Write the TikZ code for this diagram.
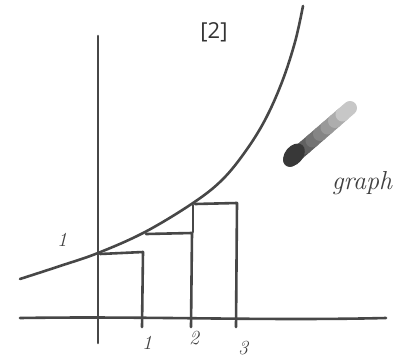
\documentclass[tikz,border=0pt]{standalone}
\usepackage{fontspec}
\setsansfont{Open Sans}
\usetikzlibrary{calc}
\begin{document}
\begin{tikzpicture}[x=1pt,y=-1pt,
  pen/.style={draw=black!72,line width=2.6pt,line cap=round,line join=round},
  hand/.style={font=\itshape\fontsize{20}{22}\selectfont,text=black!75},
]
\useasboundingbox[fill=white] (0,0) rectangle (414,359);
% axes
\draw[pen] (20,318) .. controls (150,316) and (260,321) .. (386,318);
\draw[pen] (98,36) -- (98,343);
% rectangles
\draw[pen] (100,254) -- (143,252) -- (142,327);
\draw[pen] (146,234) -- (192,233) -- (191,327);
\draw[pen] (193,232) -- (193,205);
\draw[pen] (195,204) -- (237,203) -- (236,327);
% curve
\draw[pen] plot[smooth,tension=0.6] coordinates {(20,279) (60,266) (98,253) (145,232) (193,203) (222,180) (245,152) (265,120) (282,82) (295,42) (303,6)};
% labels
\node[hand] (l1y) at (62,240) {$\mathit{1}$};
\node[hand] (l1) at (147,343) {$\mathit{1}$};
\node[hand] (l2) at (194,338) {$\mathit{2}$};
\node[hand] (l3) at (243,348) {$\mathit{3}$};
\node[font=\sffamily\fontsize{22}{26}\selectfont,text=black!80] (ref) at (214,32) {[2]};
% brush stroke
\foreach \i/\c in {0/72,1/68,2/62,3/55,4/48,5/40,6/32,7/22} {
  \draw[line width=14pt,line cap=round,draw=black!\c]
    ($(290,160)!{\i/8}!(350,108)$) -- ($(290,160)!{(\i+1)/8}!(350,108)$);
}
\fill[black!78,rotate around={-40:(294,155)}] (294,155) ellipse (9pt and 13pt);
\node[font=\itshape\fontsize{26}{28}\selectfont,text=black!75] (gr) at (362,183) {graph};
\end{tikzpicture}
\end{document}
